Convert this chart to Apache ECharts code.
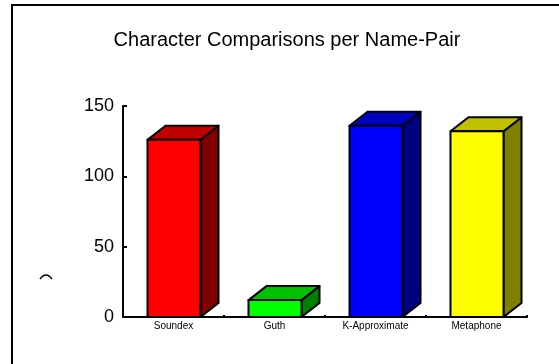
<!DOCTYPE html>
<html>
<head>
<meta charset="utf-8">
<script src="https://cdn.jsdelivr.net/npm/echarts@6/dist/echarts.min.js"></script>
<style>
html,body{margin:0;padding:0;background:#fff;overflow:hidden;}
#chart{width:559px;height:364px;}
</style>
</head>
<body>
<div id="chart"></div>
<script>
const titleText = "Character Comparisons per Name-Pair";
const categories = ["Soundex", "Guth", "K-Approximate", "Metaphone"];
const values = [126, 12, 136, 132];
const yTicks = [0, 50, 100, 150];

const frontColors = ["#FF0000", "#00FF00", "#0000FF", "#FFFF00"];
const topColors = ["#C00000", "#00C000", "#0000C0", "#C0C000"];
const sideColors = ["#800000", "#008000", "#000080", "#808000"];

const chart = echarts.init(document.getElementById('chart'), null, {renderer: 'canvas'});

const edge = {stroke: '#000', lineWidth: 2, lineJoin: 'round'};

chart.setOption({
  animation: false,
  backgroundColor: '#fff',
  title: {
    text: titleText,
    left: 282,
    top: 25,
    textAlign: 'center',
    textStyle: {fontFamily: 'Liberation Sans, Arial, sans-serif', fontSize: 20, fontWeight: 'normal', color: '#000'}
  },
  grid: {left: 123, right: 32, top: 106, bottom: 47, containLabel: false},
  xAxis: {
    type: 'category',
    data: categories,
    axisLine: {lineStyle: {color: '#000', width: 2}},
    axisTick: {show: true, inside: true, length: 2, lineStyle: {color: '#000', width: 2}},
    axisLabel: {fontFamily: 'Liberation Sans, Arial, sans-serif', fontSize: 10, color: '#000', margin: 4}
  },
  yAxis: {
    type: 'value',
    min: yTicks[0],
    max: yTicks[yTicks.length - 1],
    interval: yTicks[1] - yTicks[0],
    splitLine: {show: false},
    axisLine: {show: true, lineStyle: {color: '#000', width: 2}},
    axisTick: {show: true, inside: true, length: 4, lineStyle: {color: '#000', width: 2}},
    axisLabel: {fontFamily: 'Liberation Sans, Arial, sans-serif', fontSize: 18, color: '#000', margin: 9}
  },
  graphic: [
    {type: 'line', shape: {x1: 12, y1: 5, x2: 559, y2: 5}, style: {stroke: '#000', lineWidth: 2}, silent: true, z: 100},
    {type: 'line', shape: {x1: 12, y1: 4, x2: 12, y2: 364}, style: {stroke: '#000', lineWidth: 2}, silent: true, z: 100},
    {type: 'bezierCurve', shape: {x1: 40, y1: 279, x2: 52, y2: 279, cpx1: 46, cpy1: 271}, style: {fill: 'none', stroke: '#000', lineWidth: 1.5}, silent: true}
  ],
  series: [{
    type: 'custom',
    data: categories.map((c, i) => [i, values[i]]),
    encode: {x: 0, y: 1},
    renderItem: function (params, api) {
      const i = params.dataIndex;
      const top = api.coord([api.value(0), api.value(1)]);
      const base = api.coord([api.value(0), 0]);
      const bw = api.size([1, 0])[0] * 0.525;
      const x0 = top[0] - bw / 2 + 0.5, x1 = top[0] + bw / 2 + 0.5;
      const yT = top[1], yB = base[1];
      const dx = 18, dy = 14;
      return {
        type: 'group',
        children: [
          {type: 'polygon', shape: {points: [[x1, yB], [x1, yT], [x1 + dx, yT - dy], [x1 + dx, yB - dy]]},
            style: Object.assign({fill: sideColors[i]}, edge)},
          {type: 'polygon', shape: {points: [[x0, yT], [x0 + dx, yT - dy], [x1 + dx, yT - dy], [x1, yT]]},
            style: Object.assign({fill: topColors[i]}, edge)},
          {type: 'rect', shape: {x: x0, y: yT, width: x1 - x0, height: yB - yT},
            style: Object.assign({fill: frontColors[i]}, edge)}
        ]
      };
    }
  }]
});
</script>
</body>
</html>
